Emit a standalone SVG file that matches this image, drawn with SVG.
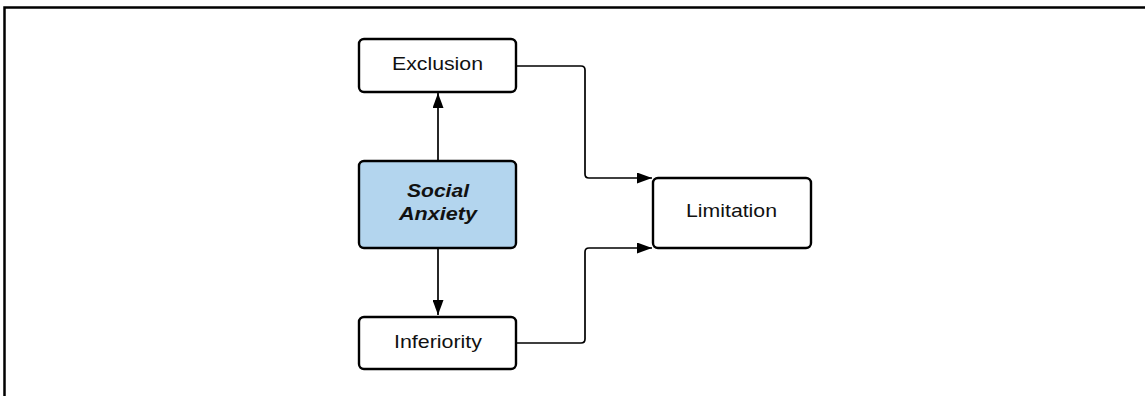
<svg xmlns="http://www.w3.org/2000/svg" width="1145" height="396" viewBox="0 0 1145 396">
<defs>
<style>
.node{fill:#ffffff;stroke:#000;stroke-width:2.4}
.main{fill:#b3d5ee;stroke:#000;stroke-width:2.4}
.lbl{font-family:"Liberation Sans",Arial,sans-serif;font-size:18.5px;fill:#111;text-anchor:middle}
.bi{font-weight:bold;font-style:italic}
.conn{fill:none;stroke:#000;stroke-width:1.7}
</style>
<marker id="ah" viewBox="0 0 15 11" refX="15" refY="5.5" markerWidth="15" markerHeight="11" markerUnits="userSpaceOnUse" orient="auto">
<path d="M0,0 L15,5.5 L0,11 Z" fill="#000"/>
</marker>
</defs>
<rect width="1145" height="396" fill="#fff"/>
<path d="M4.5,396 V7.5 H1145" fill="none" stroke="#000" stroke-width="2.5"/>
<g id="connectors">
<path class="conn" d="M438,161 V93" marker-end="url(#ah)"/>
<path class="conn" d="M438,248 V315" marker-end="url(#ah)"/>
<path class="conn" d="M516,66 H581 Q585,66 585,70 V174 Q585,178 589,178 H652" marker-end="url(#ah)"/>
<path class="conn" d="M516,343 H581 Q585,343 585,339 V252 Q585,248 589,248 H652" marker-end="url(#ah)"/>
</g>
<g id="exclusion">
<rect class="node" x="359" y="39" width="157" height="53" rx="5"/>
<text class="lbl" x="437.5" y="70" textLength="91" lengthAdjust="spacingAndGlyphs">Exclusion</text>
</g>
<g id="social-anxiety">
<rect class="main" x="359" y="161" width="157" height="87" rx="5"/>
<text class="lbl bi" x="438" y="197" textLength="62" lengthAdjust="spacingAndGlyphs">Social</text>
<text class="lbl bi" x="438" y="220" textLength="78" lengthAdjust="spacingAndGlyphs">Anxiety</text>
</g>
<g id="inferiority">
<rect class="node" x="359" y="317" width="157" height="52" rx="5"/>
<text class="lbl" x="438" y="348" textLength="88" lengthAdjust="spacingAndGlyphs">Inferiority</text>
</g>
<g id="limitation">
<rect class="node" x="653" y="178" width="158" height="70" rx="5"/>
<text class="lbl" x="731.5" y="217" textLength="91" lengthAdjust="spacingAndGlyphs">Limitation</text>
</g>
</svg>
